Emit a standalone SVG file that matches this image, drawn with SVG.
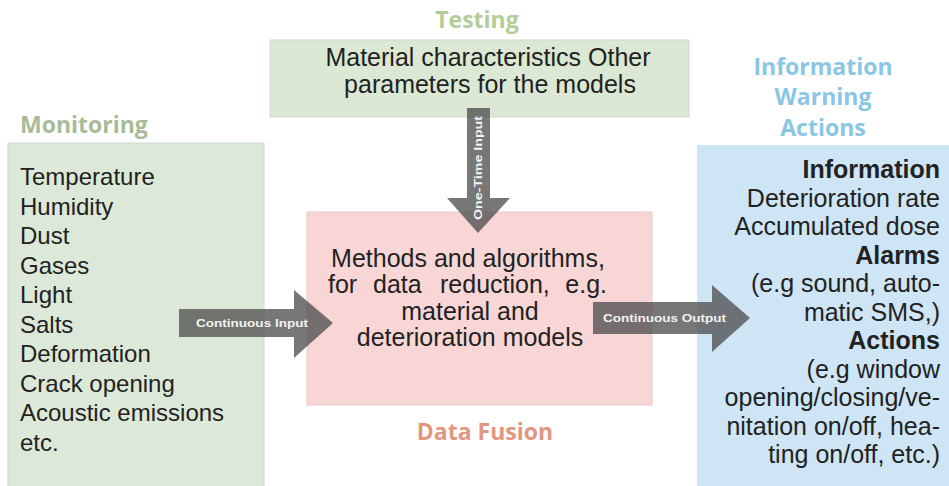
<svg xmlns="http://www.w3.org/2000/svg" width="949" height="486" viewBox="0 0 949 486">
<style>
.title{font-family:"Open Sans","Liberation Sans",sans-serif;font-weight:bold;font-size:23px}
.body{font-family:"Liberation Sans",Arial,sans-serif;font-size:24px;fill:#222}
.rt{font-family:"Liberation Sans",Arial,sans-serif;font-size:25px;fill:#222;text-anchor:end}
.b{font-weight:bold}
.arrow{fill:#4a4a4a;fill-opacity:0.75}
.alabel{font-family:"Liberation Sans",Arial,sans-serif;font-weight:bold;font-size:10.5px;fill:#f2f2f2}
</style>
<rect width="949" height="486" fill="#ffffff"/>
<g id="testing">
<text class="title" x="477" y="28" text-anchor="middle" fill="#b3cd98">Testing</text>
<rect x="270" y="40" width="419" height="77" fill="#dbe8d3" stroke="#d0dcc8" stroke-width="1"/>
<text class="body" x="488" y="66" text-anchor="middle" style="font-size:25px">Material characteristics Other</text>
<text class="body" x="490" y="93" text-anchor="middle" style="font-size:25px">parameters for the models</text>
</g>
<g id="monitoring">
<text class="title" x="20" y="133" fill="#a8bb98">Monitoring</text>
<rect x="8" y="143" width="256" height="350" fill="#dde9d8" stroke="#d0dccb" stroke-width="1"/>
<text class="body" x="20" y="185">Temperature</text>
<text class="body" x="20" y="214.5">Humidity</text>
<text class="body" x="20" y="244">Dust</text>
<text class="body" x="20" y="273.5">Gases</text>
<text class="body" x="20" y="303">Light</text>
<text class="body" x="20" y="332.5">Salts</text>
<text class="body" x="20" y="362">Deformation</text>
<text class="body" x="20" y="391.5">Crack opening</text>
<text class="body" x="20" y="421">Acoustic emissions</text>
<text class="body" x="20" y="450.5">etc.</text>
</g>
<g id="data-fusion">
<rect x="307" y="212" width="345" height="193" fill="#f8d6d6" stroke="#eecaca" stroke-width="1"/>
<text class="body" x="468" y="267" text-anchor="middle" style="font-size:25px">Methods and algorithms,</text>
<text class="body" x="328" y="293" style="font-size:25px">for</text>
<text class="body" x="373" y="293" style="font-size:25px">data</text>
<text class="body" x="440" y="293" style="font-size:25px">reduction,</text>
<text class="body" x="607" y="293" text-anchor="end" style="font-size:25px">e.g.</text>
<text class="body" x="470" y="320" text-anchor="middle" style="font-size:25px">material and</text>
<text class="body" x="470" y="346" text-anchor="middle" style="font-size:25px">deterioration models</text>
<text class="title" x="485" y="440" text-anchor="middle" fill="#e2967f">Data Fusion</text>
</g>
<g id="outputs">
<text class="title" x="823" y="75" text-anchor="middle" fill="#8ac6e6">Information</text>
<text class="title" x="823" y="105" text-anchor="middle" fill="#8ac6e6">Warning</text>
<text class="title" x="823" y="136" text-anchor="middle" fill="#8ac6e6">Actions</text>
<rect x="697" y="145" width="260" height="350" fill="#cde5f5"/>
<text class="rt b" x="940" y="178">Information</text>
<text class="rt" x="940" y="206.5">Deterioration rate</text>
<text class="rt" x="940" y="235">Accumulated dose</text>
<text class="rt b" x="940" y="263.5">Alarms</text>
<text class="rt" x="940" y="292">(e.g sound, auto-</text>
<text class="rt" x="940" y="320.5">matic SMS,)</text>
<text class="rt b" x="940" y="349">Actions</text>
<text class="rt" x="940" y="377.5">(e.g window</text>
<text class="rt" x="940" y="406">opening/closing/ve-</text>
<text class="rt" x="940" y="434.5">nitation on/off, hea-</text>
<text class="rt" x="940" y="463">ting on/off, etc.)</text>
</g>
<g id="connectors">
<polygon class="arrow" points="467,108 490,108 490,198 510,198 478,233 447,198 467,198"/>
<text class="alabel" transform="translate(482,168) rotate(-90)" text-anchor="middle" textLength="104" lengthAdjust="spacingAndGlyphs">One-Time Input</text>
<polygon class="arrow" points="179,309 294,309 294,290 333,323 294,358 294,337 179,337"/>
<text class="alabel" x="196" y="327" textLength="112" lengthAdjust="spacingAndGlyphs">Continuous Input</text>
<polygon class="arrow" points="593,302 712,302 712,285 750,318 712,352 712,334 593,334"/>
<text class="alabel" x="603" y="322" textLength="123" lengthAdjust="spacingAndGlyphs">Continuous Output</text>
</g>
</svg>
